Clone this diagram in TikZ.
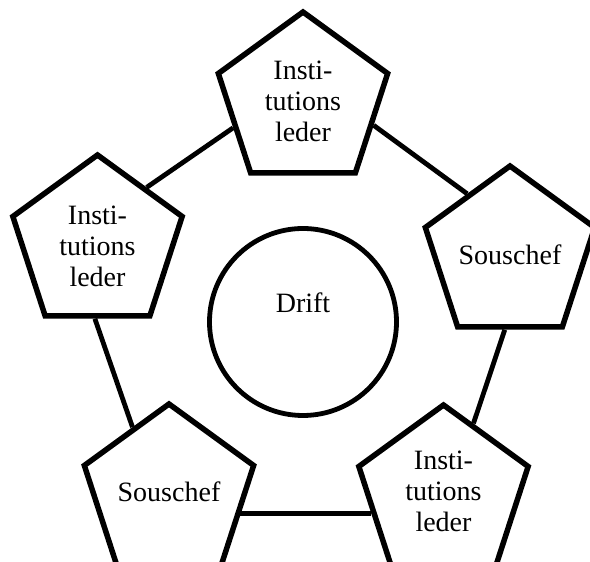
\documentclass[tikz,border=0pt]{standalone}
\usepackage{fontspec}
\setmainfont{Liberation Serif}
\usetikzlibrary{shapes.geometric}
\begin{document}
\begin{tikzpicture}[x=1pt,y=1pt,
  pent/.style={regular polygon, regular polygon sides=5, draw=black, fill=white,
    line width=5.5pt, minimum size=178pt, inner sep=0pt, line join=miter},
  lbl/.style={align=center, font=\fontsize{28}{31}\selectfont, inner sep=0pt},
  conn/.style={line width=4.8pt, draw=black}]
\useasboundingbox (0,0) rectangle (590,562);
\clip (0,0) rectangle (590,562);
% nodes
\node[pent] (T) at (303,461) {};
\node[pent] (L) at (97.5,318) {};
\node[pent] (R) at (510,307) {};
\node[pent] (BL) at (169,69) {};
\node[pent] (BR) at (443.5,68) {};
\node[circle, draw=black, line width=4.8pt, minimum size=187pt, inner sep=0pt] (D) at (303,240) {};
% labels
\node[lbl] (tT) at (303,461) {Insti-\\tutions\\leder};
\node[lbl] (tL) at (97.5,316) {Insti-\\tutions\\leder};
\node[lbl] (tR) at (510,307) {Souschef};
\node[lbl] (tBL) at (169,70) {Souschef};
\node[lbl] (tBR) at (443.5,71) {Insti-\\tutions\\leder};
\node[lbl] (tD) at (303,259) {Drift};
% connectors
\coordinate (brl) at (BR.195.3);
\coordinate (blr) at (BL.343.8);
\draw[conn] (L.49) -- (T.201);
\draw[conn] (T.341) -- (R.125);
\draw[conn] (R.266) -- (BR.67);
\draw[conn] (brl) -- (brl -| blr);
\draw[conn] (BL.119) -- (L.268);
\end{tikzpicture}
\end{document}
